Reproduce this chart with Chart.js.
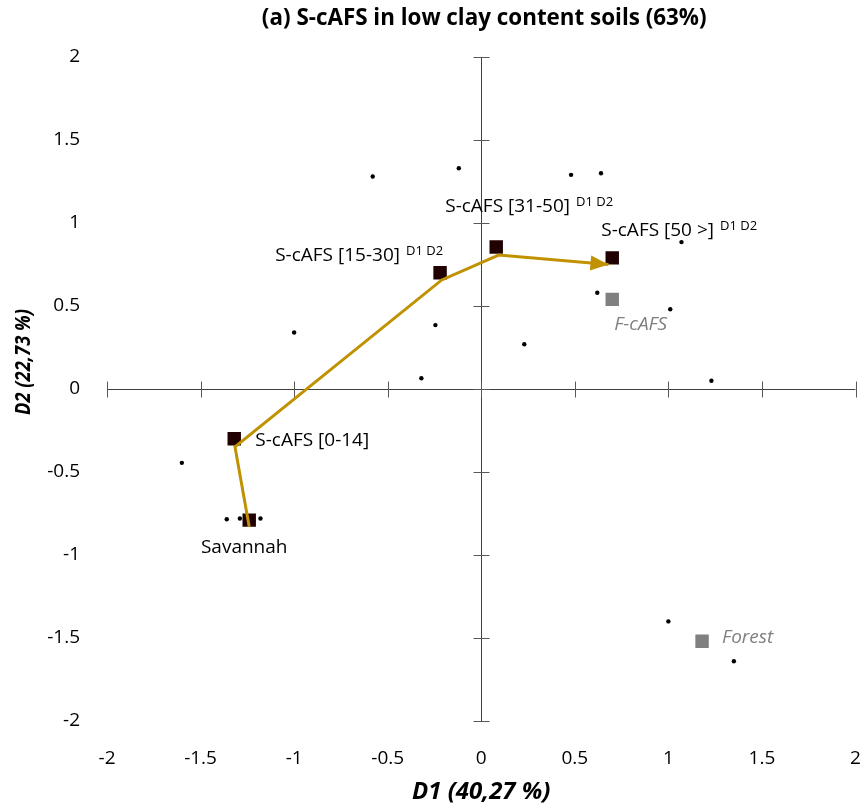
<!DOCTYPE html>
<html>
<head>
<meta charset="utf-8">
<script src="https://cdn.jsdelivr.net/npm/chart.js@4.4.1/dist/chart.umd.min.js"></script>
<style>
  html, body { margin: 0; padding: 0; background: #fff; overflow: hidden; }
  canvas { display: block; }
</style>
</head>
<body>
<canvas id="myChart" width="865" height="811"></canvas>
<script>
// observations (small black dots), D1 / D2 scores
var obsD1 = [-0.58, -0.12, 0.48, 0.64, 1.07, 0.62, 1.01, -1.0, -0.245, 0.23, -0.32, 1.23, -1.60, -1.36, -1.29, -1.18, 1.0, 1.35];
var obsD2 = [1.28, 1.33, 1.29, 1.30, 0.885, 0.58, 0.48, 0.34, 0.385, 0.27, 0.065, 0.05, -0.445, -0.785, -0.78, -0.78, -1.40, -1.64];

// S-cAFS age classes (dark squares)
var scafsNames = ['Savannah', 'S-cAFS [0-14]', 'S-cAFS [15-30]', 'S-cAFS [31-50]', 'S-cAFS [50 >]'];
var scafsSup = ['', '', 'D1 D2', 'D1 D2', 'D1 D2'];
var scafsD1 = [-1.24, -1.32, -0.22, 0.08, 0.70];
var scafsD2 = [-0.79, -0.30, 0.70, 0.855, 0.79];

// reference systems (grey squares)
var refNames = ['F-cAFS', 'Forest'];
var refD1 = [0.70, 1.18];
var refD2 = [0.54, -1.52];

// trajectory (gold arrow)
var pathD1 = [-1.24, -1.316, -0.211, 0.093, 0.68];
var pathD2 = [-0.83, -0.349, 0.657, 0.807, 0.75];

var tickVals = [-2, -1.5, -1, -0.5, 0, 0.5, 1, 1.5, 2];

var titleText = '(a) S-cAFS in low clay content soils (63%)';
var yTitleText = 'D2 (22,73 %)';

function pts(xs, ys) {
  return xs.map(function (v, i) { return { x: v, y: ys[i] }; });
}

var FONT = "'Open Sans', 'Noto Sans', sans-serif";
var GOLD = '#C09100';

// label placement relative to the square (pixels)
var scafsLabelPos = [
  { dx: -5, dy: 27, align: 'center' },
  { dx: 21, dy: 2, align: 'left' },
  { dx: 3, dy: -17, align: 'right' },
  { dx: -51, dy: -40, align: 'left' },
  { dx: -11, dy: -27, align: 'left' }
];
var refLabelPos = [
  { dx: 2, dy: 25, align: 'left' },
  { dx: 20, dy: -4, align: 'left' }
];

var crossAxes = {
  id: 'crossAxes',
  beforeDatasetsDraw: function (chart) {
    var ctx = chart.ctx, a = chart.chartArea, sx = chart.scales.x, sy = chart.scales.y;
    var x0 = Math.round(sx.getPixelForValue(0)) + 0.5;
    var y0 = Math.round(sy.getPixelForValue(0)) + 0.5;
    ctx.save();
    ctx.lineWidth = 1;
    ctx.strokeStyle = '#404040';
    ctx.beginPath();
    ctx.moveTo(a.left, y0); ctx.lineTo(a.right, y0);
    ctx.moveTo(x0, a.top); ctx.lineTo(x0, a.bottom);
    ctx.stroke();
    ctx.strokeStyle = '#595959';
    ctx.beginPath();
    tickVals.forEach(function (v) {
      var px = Math.round(sx.getPixelForValue(v)) + 0.5;
      var py = Math.round(sy.getPixelForValue(v)) + 0.5;
      ctx.moveTo(px, y0 - 8); ctx.lineTo(px, y0 + 8);
      ctx.moveTo(x0 - 8, py); ctx.lineTo(x0 + 8, py);
    });
    ctx.stroke();

    // chart title, centred over the plot area
    ctx.fillStyle = '#000';
    ctx.textAlign = 'center';
    ctx.textBaseline = 'middle';
    ctx.font = 'bold 20px ' + FONT;
    var fs = 20 * 444 / ctx.measureText(titleText).width;
    ctx.font = 'bold ' + fs.toFixed(1) + 'px ' + FONT;
    ctx.fillText(titleText, (a.left + a.right) / 2 + 3, 19);

    // vertical axis title
    ctx.translate(24, 362);
    ctx.rotate(-Math.PI / 2);
    ctx.font = 'italic bold 22px ' + FONT;
    ctx.fillText(yTitleText, 0, 0, 106);
    ctx.restore();
  }
};

function drawLabel(ctx, x, y, text, sup, pos, color, italic) {
  var mainFont = (italic ? 'italic ' : '') + '19px ' + FONT;
  var supFont = '13px ' + FONT;
  ctx.font = mainFont;
  var w = ctx.measureText(text).width;
  var sw = 0;
  if (sup) { ctx.font = supFont; sw = 6 + ctx.measureText(sup).width; }
  var total = w + sw;
  var left = x + pos.dx;
  if (pos.align === 'center') left -= total / 2;
  if (pos.align === 'right') left -= total;
  var cy = y + pos.dy;
  ctx.fillStyle = color;
  ctx.textBaseline = 'middle';
  ctx.textAlign = 'left';
  ctx.font = mainFont;
  ctx.fillText(text, left, cy);
  if (sup) {
    ctx.font = supFont;
    ctx.fillText(sup, left + w + 6, cy - 5);
  }
}

var overlay = {
  id: 'overlay',
  afterDatasetsDraw: function (chart) {
    var ctx = chart.ctx, sx = chart.scales.x, sy = chart.scales.y;
    ctx.save();
    // arrow head at end of trajectory
    var n = pathD1.length;
    var tx = sx.getPixelForValue(pathD1[n - 1]), ty = sy.getPixelForValue(pathD2[n - 1]);
    var px = sx.getPixelForValue(pathD1[n - 2]), py = sy.getPixelForValue(pathD2[n - 2]);
    var ang = Math.atan2(ty - py, tx - px);
    ctx.translate(tx, ty);
    ctx.rotate(ang);
    ctx.fillStyle = GOLD;
    ctx.beginPath();
    ctx.moveTo(0, 0); ctx.lineTo(-18, -7.5); ctx.lineTo(-18, 7.5);
    ctx.closePath();
    ctx.fill();
    ctx.restore();

    ctx.save();
    scafsNames.forEach(function (name, i) {
      drawLabel(ctx, sx.getPixelForValue(scafsD1[i]), sy.getPixelForValue(scafsD2[i]),
        name, scafsSup[i], scafsLabelPos[i], '#000', false);
    });
    refNames.forEach(function (name, i) {
      drawLabel(ctx, sx.getPixelForValue(refD1[i]), sy.getPixelForValue(refD2[i]),
        name, '', refLabelPos[i], '#7f7f7f', true);
    });
    ctx.restore();
  }
};

var ctx = document.getElementById('myChart').getContext('2d');
var chart = new Chart(ctx, {
  type: 'scatter',
  data: {
    datasets: [
      {
        type: 'line',
        data: pts(pathD1, pathD2),
        borderColor: GOLD,
        borderWidth: 3,
        pointRadius: 0,
        fill: false,
        tension: 0,
        order: 0
      },
      {
        data: pts(scafsD1, scafsD2),
        pointStyle: 'rect',
        pointRadius: 9.5,
        backgroundColor: '#200000',
        borderColor: '#200000',
        borderWidth: 0,
        order: 1
      },
      {
        data: pts(refD1, refD2),
        pointStyle: 'rect',
        pointRadius: 9.5,
        backgroundColor: '#808080',
        borderColor: '#808080',
        borderWidth: 0,
        order: 1
      },
      {
        data: pts(obsD1, obsD2),
        pointStyle: 'circle',
        pointRadius: 2.2,
        backgroundColor: '#000',
        borderColor: '#000',
        borderWidth: 0,
        order: 2
      }
    ]
  },
  options: {
    responsive: false,
    animation: false,
    layout: { padding: { left: 0, right: 9, top: 57, bottom: 0 } },
    plugins: {
      legend: { display: false },
      tooltip: { enabled: false },
      title: { display: false }
    },
    scales: {
      x: {
        type: 'linear',
        min: -2, max: 2,
        grid: { display: false, drawTicks: true, tickLength: 23 },
        border: { display: false },
        ticks: {
          stepSize: 0.5,
          color: '#000',
          padding: 3,
          font: { family: FONT, size: 19 },
          callback: function (v) { return String(v); }
        },
        title: {
          display: true,
          text: 'D1 (40,27 %)',
          color: '#000',
          font: { family: FONT, size: 24, weight: 'bold', style: 'italic' },
          padding: { top: 0, bottom: 4 }
        },
        afterFit: function (s) { s.height = 90; }
      },
      y: {
        type: 'linear',
        min: -2, max: 2,
        grid: { display: false, drawTicks: true, tickLength: 24 },
        border: { display: false },
        ticks: {
          stepSize: 0.5,
          color: '#000',
          padding: 3,
          font: { family: FONT, size: 19 },
          callback: function (v) { return String(v); }
        },
        title: { display: false },
        afterFit: function (s) { s.width = 107; }
      }
    }
  },
  plugins: [crossAxes, overlay]
});
</script>
</body>
</html>
